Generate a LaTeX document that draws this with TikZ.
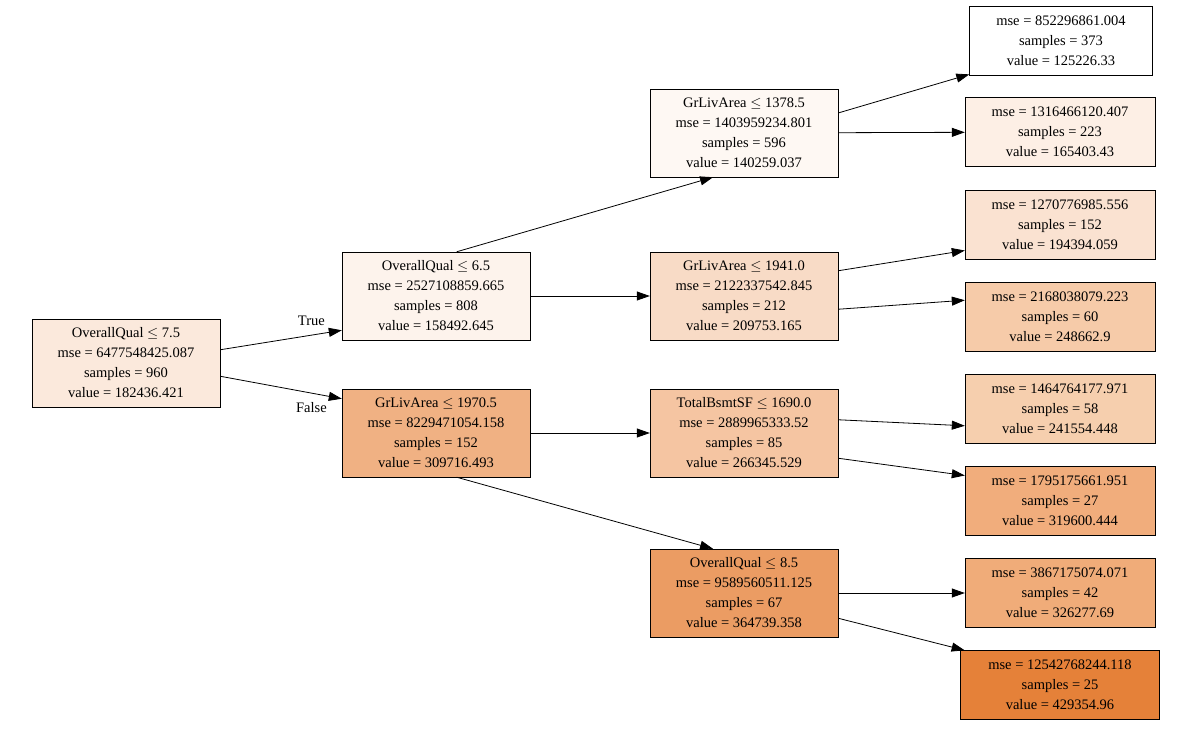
\documentclass[tikz,border=0pt]{standalone}
\usepackage{fontspec}
\setmainfont{Liberation Serif}
\usetikzlibrary{arrows.meta}
\tikzset{
  split/.style={draw,rectangle,align=center,minimum width=188pt,minimum height=88pt,inner sep=2pt,font=\fontsize{14.5}{20}\selectfont},
  leaf/.style={split,minimum width=190pt,minimum height=69pt},
  edge/.style={-{Triangle[length=13pt,width=9pt]},thick}
}
\begin{document}
\begin{tikzpicture}[x=1pt,y=-1pt]
\useasboundingbox (0,0) rectangle (1189,731);

\node[split,fill={rgb,255:red,251;green,233;blue,220}] (0) at (126,363) {OverallQual $\leq$ 7.5\\mse = 6477548425.087\\samples = 960\\value = 182436.421};

\node[split,fill={rgb,255:red,253;green,243;blue,236}] (1) at (436,296) {OverallQual $\leq$ 6.5\\mse = 2527108859.665\\samples = 808\\value = 158492.645};
\node[split,fill={rgb,255:red,240;green,177;blue,131}] (8) at (436,433) {GrLivArea $\leq$ 1970.5\\mse = 8229471054.158\\samples = 152\\value = 309716.493};

\node[split,fill={rgb,255:red,254;green,248;blue,243}] (2) at (744,133) {GrLivArea $\leq$ 1378.5\\mse = 1403959234.801\\samples = 596\\value = 140259.037};
\node[split,fill={rgb,255:red,248;green,219;blue,198}] (5) at (744,296) {GrLivArea $\leq$ 1941.0\\mse = 2122337542.845\\samples = 212\\value = 209753.165};
\node[split,fill={rgb,255:red,245;green,197;blue,162}] (9) at (744,433) {TotalBsmtSF $\leq$ 1690.0\\mse = 2889965333.52\\samples = 85\\value = 266345.529};
\node[split,fill={rgb,255:red,235;green,156;blue,99}] (12) at (744,593) {OverallQual $\leq$ 8.5\\mse = 9589560511.125\\samples = 67\\value = 364739.358};

\node[leaf,fill=white,minimum width=183pt] (3) at (1061,41) {mse = 852296861.004\\samples = 373\\value = 125226.33};
\node[leaf,fill={rgb,255:red,253;green,239;blue,229}] (4) at (1060,132) {mse = 1316466120.407\\samples = 223\\value = 165403.43};
\node[leaf,fill={rgb,255:red,250;green,226;blue,209}] (6) at (1060,225) {mse = 1270776985.556\\samples = 152\\value = 194394.059};
\node[leaf,fill={rgb,255:red,246;green,203;blue,169}] (7) at (1060,317) {mse = 2168038079.223\\samples = 60\\value = 248662.9};
\node[leaf,fill={rgb,255:red,246;green,207;blue,174}] (10) at (1060,409) {mse = 1464764177.971\\samples = 58\\value = 241554.448};
\node[leaf,fill={rgb,255:red,241;green,173;blue,124}] (11) at (1060,501) {mse = 1795175661.951\\samples = 27\\value = 319600.444};
\node[leaf,fill={rgb,255:red,240;green,172;blue,121}] (13) at (1060,593) {mse = 3867175074.071\\samples = 42\\value = 326277.69};
\node[leaf,fill={rgb,255:red,229;green,129;blue,57},minimum width=199pt] (14) at (1060,685) {mse = 12542768244.118\\samples = 25\\value = 429354.96};

\draw[edge] (0.8)--(1.200)node[pos=0.75,above=6pt,font=\fontsize{14.5}{18}\selectfont]{True};
\draw[edge] (0.-8)--(8.160)node[pos=0.75,below=6pt,font=\fontsize{14.5}{18}\selectfont]{False};
\draw[edge] (1.65)--(2.235);
\draw[edge] (1)--(5);
\draw[edge] (8)--(9);
\draw[edge] (8.-65)--(12.125);
\draw[edge] (2.12)--(3.200);
\draw[edge] (2)--(4);
\draw[edge] (5.15)--(6.195);
\draw[edge] (5.-8)--(7.170);
\draw[edge] (9.8)--(10.190);
\draw[edge] (9.-15)--(11.165);
\draw[edge] (12)--(13);
\draw[edge] (12.-15)--(14.160);

\end{tikzpicture}
\end{document}
